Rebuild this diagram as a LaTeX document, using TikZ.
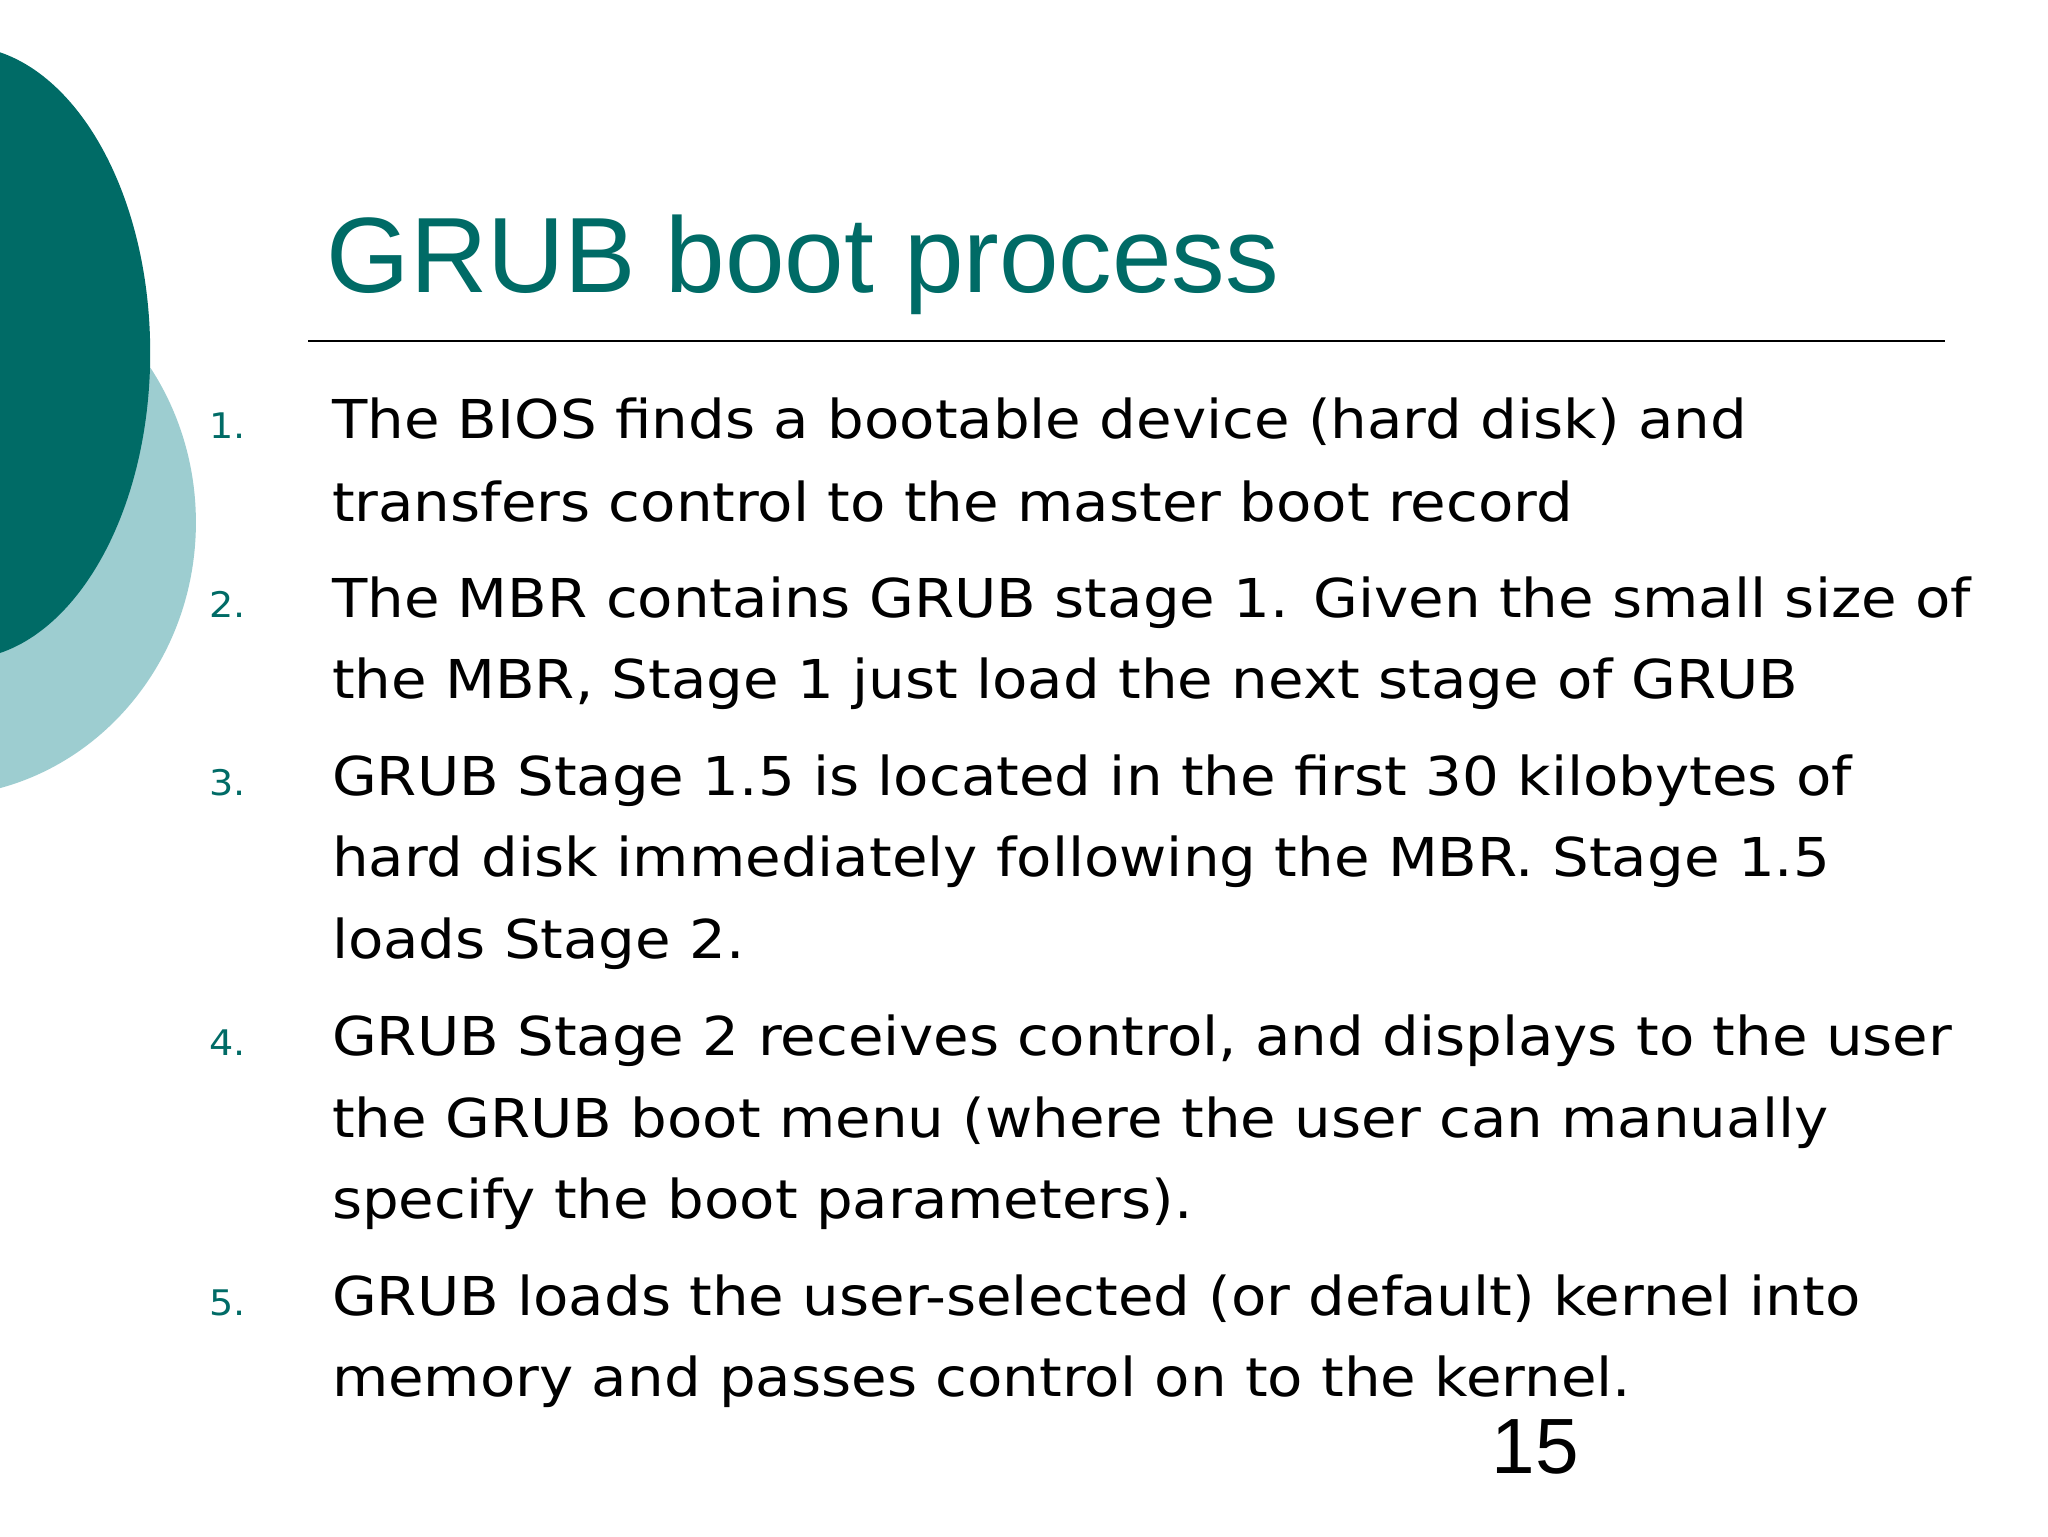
\documentclass[tikz,border=0pt]{standalone}
\usepackage{fontspec}
\setmainfont{DejaVu Sans}
\newfontfamily\vfont[FakeStretch=1.08]{DejaVu Sans}
\newfontfamily\afont{Liberation Sans}
\definecolor{teal1}{HTML}{006B66}
\definecolor{teal2}{HTML}{9DCDD0}
\begin{document}
\begin{tikzpicture}[x=1pt,y=-1pt,
  body/.style={anchor=base west,inner sep=0pt,font=\vfont\fontsize{41}{48}\selectfont},
  num/.style={anchor=base west,inner sep=0pt,text=teal1,font=\vfont\fontsize{27}{30}\selectfont}]
\useasboundingbox (0,0) rectangle (1568,1176);
\fill[white] (0,0) rectangle (1568,1176);
\begin{scope}
\clip (0,0) rectangle (1568,1176);
\fill[teal2] (-50,400) ellipse [x radius=200, y radius=210];
\fill[teal1] (-30,270) ellipse [x radius=145, y radius=235];
\end{scope}
\node[anchor=base west,inner sep=0pt,text=teal1,font=\afont\fontsize{82}{90}\selectfont] (title) at (250,224) {GRUB boot process};
\coordinate (l1) at (236,261); \coordinate (l2) at (1489,261);
\draw[line width=1.5pt] (l1) -- (l2);
\node[num] (n1) at (160,336) {1.};
\node[num] (n2) at (160,473) {2.};
\node[num] (n3) at (160,609) {3.};
\node[num] (n4) at (160,808) {4.};
\node[num] (n5) at (160,1007) {5.};
\node[body] (a1) at (254,336) {The BIOS finds a bootable device (hard disk) and};
\node[body] (a2) at (254,399) {transfers control to the master boot record};
\node[body] (b1) at (254,473) {The MBR contains GRUB stage 1. Given the small size of};
\node[body] (b2) at (254,535) {the MBR, Stage 1 just load the next stage of GRUB};
\node[body] (c1) at (254,609) {GRUB Stage 1.5 is located in the first 30 kilobytes of};
\node[body] (c2) at (254,671) {hard disk immediately following the MBR. Stage 1.5};
\node[body] (c3) at (254,734) {loads Stage 2.};
\node[body] (d1) at (254,808) {GRUB Stage 2 receives control, and displays to the user};
\node[body] (d2) at (254,871) {the GRUB boot menu (where the user can manually};
\node[body] (d3) at (254,933) {specify the boot parameters).};
\node[body] (e1) at (254,1007) {GRUB loads the user-selected (or default) kernel into};
\node[body] (e2) at (254,1069) {memory and passes control on to the kernel.};
\node[anchor=base west,inner sep=0pt,font=\afont\fontsize{60}{66}\selectfont] (pg) at (1142,1128) {15};
\end{tikzpicture}
\end{document}
